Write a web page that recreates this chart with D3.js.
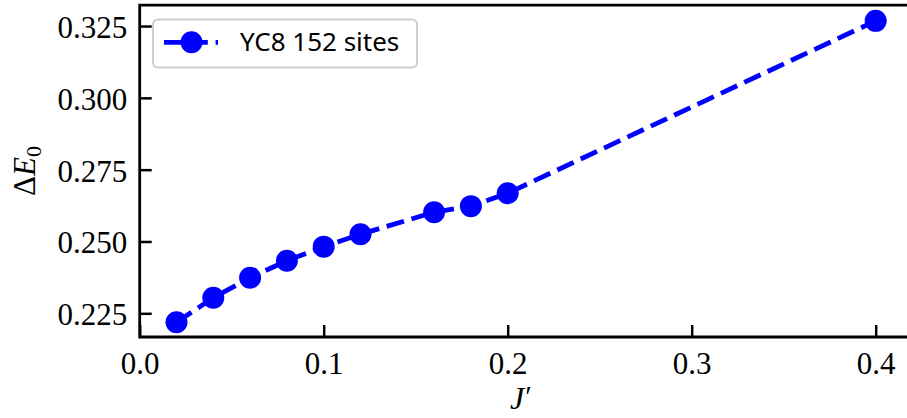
<!DOCTYPE html>
<html>
<head>
<meta charset="utf-8">
<script src="https://cdn.jsdelivr.net/npm/d3@7"></script>
<style>
  html, body { margin: 0; padding: 0; background: #fff; }
  svg { display: block; }
</style>
</head>
<body>
<svg id="chart" width="907" height="418"></svg>
<script>
// Ground-state energy gap versus interchain coupling J'
const jPrime = [0.02, 0.04, 0.06, 0.08, 0.10, 0.12, 0.16, 0.18, 0.20, 0.40];
const gapE0 = [0.2219, 0.2304, 0.2374, 0.2433, 0.2482, 0.2525, 0.2602, 0.2623, 0.2668, 0.3268];
const seriesName = "YC8 152 sites";
const xTicks = [0.0, 0.1, 0.2, 0.3, 0.4];
const yTicks = [0.225, 0.250, 0.275, 0.300, 0.325];

const serif = "'Liberation Serif', 'DejaVu Serif', serif";
const plotLeft = 139.7, plotTop = 5.2, plotBottom = 337;
const svg = d3.select("#chart");

const x = d3.scaleLinear().domain([0, 0.419]).range([plotLeft, plotLeft + 0.419 * 1840]);
const y = d3.scaleLinear().domain([0.21675, 0.33225]).range([plotBottom, plotTop]);

const blue = "#0000ff";
const axisW = 2.8;

// axes with inward ticks
const gx = svg.append("g").attr("transform", `translate(0,${plotBottom})`)
  .call(d3.axisBottom(x).tickValues(xTicks).tickFormat(d3.format(".1f"))
    .tickSizeInner(-12).tickSizeOuter(0));
gx.attr("font-family", serif).attr("font-size", 31);
gx.select(".domain").remove();
gx.selectAll(".tick line").attr("stroke", "#000").attr("stroke-width", 2.5);
gx.selectAll(".tick text").attr("y", 36.5).attr("dy", null).attr("fill", "#000")
  .style("font-family", serif).style("font-size", "31px");

const gy = svg.append("g").attr("transform", `translate(${plotLeft},0)`)
  .call(d3.axisLeft(y).tickValues(yTicks).tickFormat(d3.format(".3f"))
    .tickSizeInner(-12).tickSizeOuter(0));
gy.attr("font-family", serif).attr("font-size", 31);
gy.select(".domain").remove();
gy.selectAll(".tick line").attr("stroke", "#000").attr("stroke-width", 2.5);
gy.selectAll(".tick text").attr("x", -12.5).attr("dy", null).attr("y", 11.5)
  .attr("text-anchor", "end").attr("fill", "#000")
  .style("font-family", serif).style("font-size", "31px");

// spines: left, bottom, top (right edge falls outside the canvas)
const xr = x.range()[1];
svg.append("path")
  .attr("d", `M${xr},${plotTop}H${plotLeft}V${plotBottom}H${xr}`)
  .attr("fill", "none").attr("stroke", "#000").attr("stroke-width", axisW);

// dashed series line with markers
const line = d3.line().x((d, i) => x(jPrime[i])).y(d => y(d));
svg.append("path")
  .datum(gapE0)
  .attr("d", line)
  .attr("fill", "none")
  .attr("stroke", blue)
  .attr("stroke-width", 4.8)
  .attr("stroke-dasharray", "18,7.8");

svg.append("g").selectAll("circle")
  .data(gapE0)
  .join("circle")
  .attr("cx", (d, i) => x(jPrime[i]))
  .attr("cy", d => y(d))
  .attr("r", 11)
  .attr("fill", blue);

// legend
const lg = svg.append("g");
lg.append("rect")
  .attr("x", 153).attr("y", 19.5).attr("width", 264).attr("height", 48)
  .attr("rx", 5).attr("fill", "#fff").attr("fill-opacity", 0.8)
  .attr("stroke", "#cccccc").attr("stroke-width", 2);
lg.append("line")
  .attr("x1", 164).attr("x2", 218).attr("y1", 42.3).attr("y2", 42.3)
  .attr("stroke", blue).attr("stroke-width", 4.8)
  .attr("stroke-dasharray", "18,7.8");
lg.append("circle").attr("cx", 191.5).attr("cy", 42.3).attr("r", 11).attr("fill", blue);
lg.append("text")
  .attr("x", 240).attr("y", 50.5)
  .attr("font-family", "'Noto Sans', 'DejaVu Sans', sans-serif")
  .attr("font-size", 26)
  .attr("fill", "#000")
  .text(seriesName);

// axis titles
const xl = svg.append("text")
  .attr("x", 521).attr("y", 409)
  .attr("text-anchor", "middle")
  .style("font-family", serif)
  .style("font-size", "32px");
xl.append("tspan").style("font-style", "italic").text("J");
xl.append("tspan").attr("dx", 1).attr("dy", -3).style("font-size", "30px").text("′");

const yl = svg.append("text")
  .attr("transform", "translate(35,171) rotate(-90)")
  .attr("text-anchor", "middle")
  .style("font-family", serif)
  .style("font-size", "31px");
yl.append("tspan").text("Δ");
yl.append("tspan").style("font-style", "italic").text("E");
yl.append("tspan").style("font-size", "22px").attr("dy", 6).text("0");
</script>
</body>
</html>
